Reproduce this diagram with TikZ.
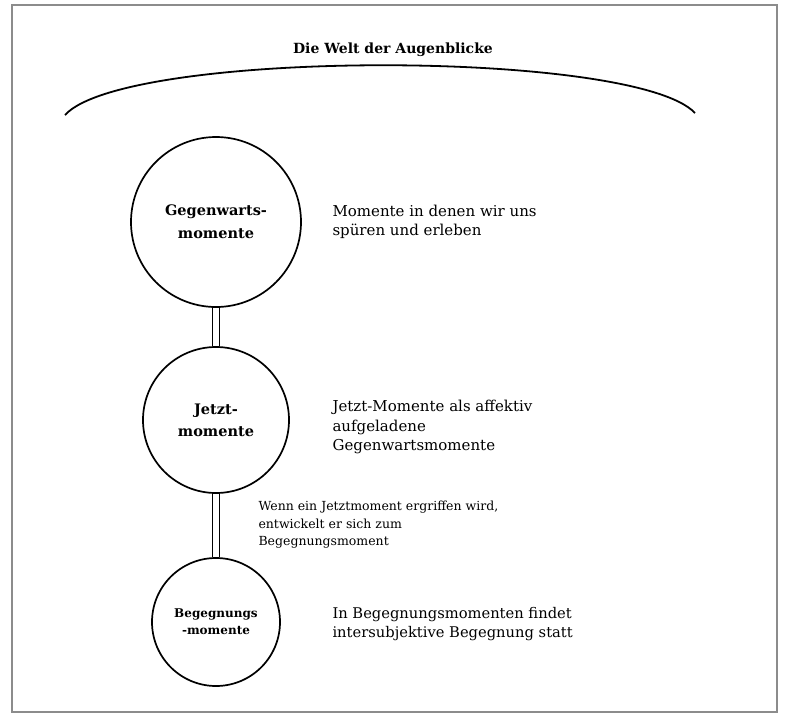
\documentclass[tikz,border=0pt]{standalone}
\usepackage{fontspec}
\setmainfont{DejaVu Serif}
\usetikzlibrary{positioning}

\begin{document}
\begin{tikzpicture}[x=1pt,y=-1pt,
  moment/.style={draw,circle,line width=1.7pt,align=center,inner sep=0pt},
  note/.style={anchor=west,align=left,font=\fontsize{15}{19.5}\selectfont},
  uebergang/.style={line width=0.9pt}]
  \useasboundingbox (0,0) rectangle (785,716);
  \draw[black!45, line width=1.5pt] (12,5) rectangle (777,712);

  % Titel mit Bogen
  \node[font=\bfseries\fontsize{14}{17}\selectfont] (titel) at (393,50) {Die Welt der Augenblicke};
  \coordinate (bogenl) at (65,115);
  \coordinate (bogenr) at (695,113);
  \draw[line width=1.8pt] (bogenl) .. controls (125,49) and (635,49) .. (bogenr);

  % Kreise
  \node[moment,minimum size=170pt,font=\bfseries\fontsize{14.5}{23}\selectfont] (gegenwart) at (216,222) {Gegenwarts-\\momente};
  \node[moment,minimum size=146pt,font=\bfseries\fontsize{14.5}{22}\selectfont] (jetzt) at (216,420) {Jetzt-\\momente};
  \node[moment,minimum size=128pt,font=\bfseries\fontsize{12}{17}\selectfont] (begegnung) at (216,622) {Begegnungs\\-momente};

  % Doppellinien
  \foreach \von/\nach in {gegenwart/jetzt, jetzt/begegnung} {
    \draw[uebergang] ([xshift=-3.5pt]\von.south) -- ([xshift=-3.5pt]\nach.north);
    \draw[uebergang] ([xshift=3.5pt]\von.south) -- ([xshift=3.5pt]\nach.north);
  }

  % Erklaerungen
  \node[note] (text1) at (329,222) {Momente in denen wir uns\\spüren und erleben};
  \node[note] (text2) at (329,427) {Jetzt-Momente als affektiv\\aufgeladene\\Gegenwartsmomente};
  \node[anchor=west,align=left,font=\fontsize{12.5}{17.5}\selectfont] (wenn) at (255,525) {Wenn ein Jetztmoment ergriffen wird,\\entwickelt er sich zum\\Begegnungsmoment};
  \node[note,font=\fontsize{14.7}{19.5}\selectfont] (text3) at (329,624) {In Begegnungsmomenten findet\\intersubjektive Begegnung statt};
\end{tikzpicture}
\end{document}
